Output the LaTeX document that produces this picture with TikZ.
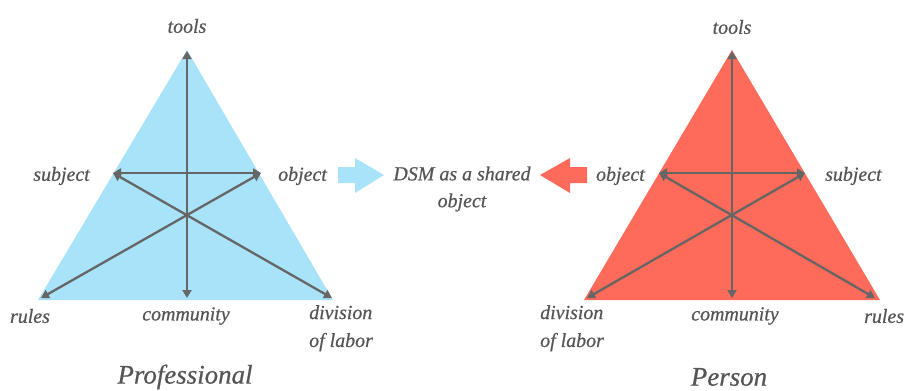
\documentclass[tikz,border=0pt]{standalone}
\usepackage{fontspec}
\setmainfont{Liberation Serif}[ItalicFeatures={FakeBold=0.6}]
\usetikzlibrary{arrows.meta}
\definecolor{skyfill}{HTML}{A8E3FA}
\definecolor{coralfill}{HTML}{FF6B5A}
\definecolor{linegray}{HTML}{666666}
\definecolor{textgray}{HTML}{555555}
\tikzset{
  link/.style={draw=linegray, line width=2.3bp, {Triangle[length=8bp,width=9bp]}-{Triangle[length=8bp,width=9bp]}},
  lbl/.style={text=textgray, font=\fontsize{20}{24}\selectfont\itshape, inner sep=0pt},
  title/.style={text=textgray, font=\fontsize{27}{30}\selectfont\itshape, inner sep=0pt},
}
\begin{document}
\begin{tikzpicture}[x=1bp, y=-1bp]
\useasboundingbox (0,0) rectangle (904,390);

% ---- Professional triangle ----
\fill[skyfill] (187,50) -- (333,300) -- (38,300) -- cycle;
\coordinate (pTools) at (187,51);
\coordinate (pCom) at (187,298);
\coordinate (pSub) at (113,173);
\coordinate (pObj) at (261,173);
\coordinate (pRul) at (41,298);
\coordinate (pDiv) at (332,298);
\draw[link] (pTools) -- (pCom);
\draw[link] (pSub) -- (pObj);
\draw[link] (pSub) -- (pDiv);
\draw[link] (pObj) -- (pRul);

\node[lbl] (ltools1) at (187,26) {tools};
\node[lbl, anchor=east] (lsub1) at (90,176) {subject};
\node[lbl, anchor=west] (lobj1) at (278,176) {object};
\node[lbl] (lrul1) at (30,316) {rules};
\node[lbl] (lcom1) at (186,316) {community};
\node[lbl, anchor=north west, align=left] (ldiv1) at (309,305) {division\\[4bp]of labor};
\node[title] (tprof) at (185,377) {Professional};

% ---- Person triangle ----
\fill[coralfill] (732,50) -- (880,300) -- (584,300) -- cycle;
\coordinate (qTools) at (732,51);
\coordinate (qCom) at (732,298);
\coordinate (qObj) at (659,173);
\coordinate (qSub) at (805,173);
\coordinate (qDiv) at (587,298);
\coordinate (qRul) at (875,298);
\draw[link] (qTools) -- (qCom);
\draw[link] (qObj) -- (qSub);
\draw[link] (qObj) -- (qRul);
\draw[link] (qSub) -- (qDiv);

\node[lbl] (ltools2) at (732,27) {tools};
\node[lbl, anchor=east] (lobj2) at (645,176) {object};
\node[lbl, anchor=west] (lsub2) at (825,176) {subject};
\node[lbl, anchor=west] (lrul2) at (864,316) {rules};
\node[lbl] (lcom2) at (735,316) {community};
\node[lbl, anchor=north west, align=left] (ldiv2) at (540,305) {division\\[4bp]of labor};
\node[title] (tpers) at (729,377) {Person};

% ---- shared object ----
\node[lbl, align=center] (dsm) at (462,189) {DSM as a shared\\[3bp]object};
\fill[skyfill] (338,167) -- (355,167) -- (355,158) -- (384,175) -- (355,193) -- (355,183) -- (338,183) -- cycle;
\fill[coralfill] (587,167) -- (570,167) -- (570,158) -- (540,175) -- (570,193) -- (570,183) -- (587,183) -- cycle;
\end{tikzpicture}
\end{document}
